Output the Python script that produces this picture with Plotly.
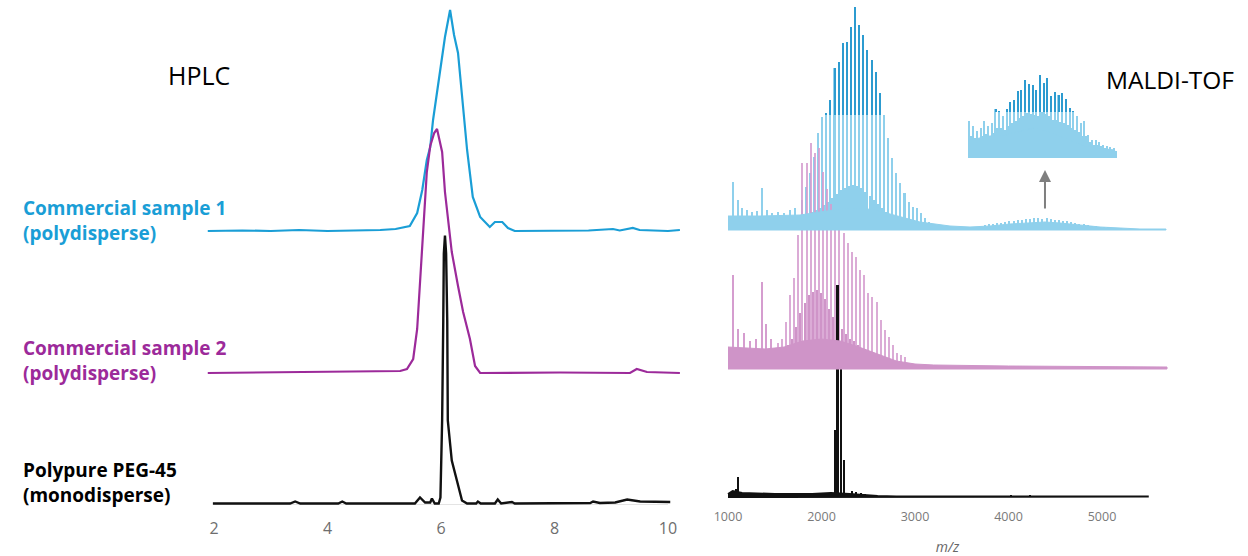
import plotly.graph_objects as go

W, H = 1248, 556

# ------------------------------------------------------------------
# HPLC chromatograms (retention time / min, detector response / a.u.)
# ------------------------------------------------------------------
hplc_ticks = [2, 4, 6, 8, 10]

hplc_s1_t = [1.89, 2.5, 3.0, 3.5, 4.0, 4.5, 4.93, 5.2, 5.45, 5.58, 5.67, 5.75, 5.81, 5.86,
             5.98, 6.07, 6.16, 6.23, 6.30, 6.39, 6.46, 6.56, 6.69, 6.86, 6.95, 7.08, 7.18,
             7.30, 8.0, 8.6, 9.03, 9.15, 9.38, 9.5, 10.0, 10.21]
hplc_s1_i = [0, 0.5, 0, 1, 0, 0.5, 1, 2, 5, 18, 41, 71, 84, 111,
             161, 194, 221, 196, 178, 121, 81, 34, 14, 4, 9, 9, 3,
             0, 0.5, 0.5, 2, 0.5, 3, 1, 0, 1]

hplc_s2_t = [1.89, 3.52, 5.28, 5.40, 5.51, 5.58, 5.63, 5.68, 5.75, 5.81, 5.88, 5.93, 5.98,
             6.02, 6.07, 6.12, 6.19, 6.30, 6.39, 6.51, 6.60, 6.69, 8.10, 9.33, 9.45, 9.63, 10.21]
hplc_s2_i = [0, 1, 2, 4, 14, 44, 87, 137, 201, 227, 240, 244, 232,
             221, 181, 154, 121, 87, 61, 34, 7, 0, 0.5, 0, 4, 1, 0]

hplc_peg_t = [1.98, 3.34, 3.43, 3.52, 4.19, 4.26, 4.33, 5.54, 5.63, 5.72, 5.81, 5.84, 5.89,
              5.96, 5.99, 6.02, 6.04, 6.05, 6.07, 6.09, 6.11, 6.12, 6.16, 6.19, 6.28, 6.37,
              6.46, 6.62, 6.65, 6.70, 6.95, 7.00, 7.06, 7.25, 7.30, 8.63, 8.68, 8.80, 9.07,
              9.28, 9.51, 10.04]
hplc_peg_i = [0, 0, 2, 0, 0, 2, 0, 0, 6, 1, 1, 5, 0,
              0, 6, 83, 183, 250, 268, 250, 183, 83, 60, 43, 23, 3,
              0, 0, 2, 0, 0, 4, 0, 1.5, 0, 0.5, 2, 0.5, 1,
              4, 2, 1.5]

# ------------------------------------------------------------------
# MALDI-TOF spectra (m/z, relative intensity / a.u.)
# ------------------------------------------------------------------
maldi_ticks = [1000, 2000, 3000, 4000, 5000]
peg_repeat = 44  # Da, ethylene-oxide repeat unit

# Commercial sample 1
s1_main_start = 1790
s1_main_h = [30, 43, 57, 73, 97, 113, 117, 130, 162, 168, 187, 188, 203, 223, 205, 195,
             180, 170, 158, 137, 115, 92, 72, 57, 47, 37, 28, 23, 22, 17, 12, 8, 6, 5, 4, 3]
s1_minor_start = 1812
s1_minor_h = [14, 16, 18, 20, 22, 25, 28, 32, 36, 40, 42, 44, 45, 44, 42, 38, 34, 30, 26,
              22, 18, 15, 12, 10, 8, 7, 6, 5, 4, 4, 3, 3]
s1_high_start = 3749
s1_high_h = [5, 6, 6, 7, 7, 8, 9, 9, 10, 10, 11, 11, 12, 12, 11, 12, 11, 10, 10, 9, 9, 8,
             7, 6, 6, 5, 4, 4, 3, 3, 3, 2, 2, 2]
s1_noise_mz = [1053, 1107, 1150, 1203, 1257, 1310, 1364, 1417, 1471, 1535, 1599, 1663, 1717]
s1_noise_h = [48, 30, 22, 20, 18, 19, 42, 20, 17, 18, 17, 20, 22]
s1_bg_mz = [1000, 1342, 1770, 1984, 2198, 2412, 2572, 2733, 2893, 3053, 3214, 3374, 3588,
            3802, 4016, 4230, 4390, 4551, 4765, 4979, 5193, 5406, 5684]
s1_bg_h = [14, 14, 15, 18, 21, 22, 20, 16, 12, 8, 6, 4, 3, 4, 6, 7, 8, 7, 5, 3, 2, 1, 1]

# Zoomed inset of sample 1 high-mass distribution
inset_start = 3500
inset_h = [37, 32, 27, 30, 37, 32, 35, 49, 47, 42, 49, 56, 58, 67, 68, 78, 74, 73, 68, 83,
           75, 80, 62, 66, 63, 65, 59, 50, 47, 42, 35, 37, 23, 18, 18, 16, 13, 12, 11, 10]
inset_minor_start = 3522
inset_minor_h = [22, 20, 19, 22, 24, 22, 25, 30, 30, 28, 32, 35, 37, 40, 42, 45, 44, 43, 42,
                 46, 44, 42, 38, 38, 36, 35, 33, 30, 28, 26, 22, 22, 16, 13, 13, 12, 10, 9, 8, 7]
inset_bg_mz = [3500, 3740, 3920, 4110, 4260, 4410, 4560, 4710, 4860, 5010, 5220]
inset_bg_h = [18, 22, 23, 27, 30, 27, 22, 17, 12, 10, 8]

# Commercial sample 2
s2_main_start = 1535
s2_main_h = [26, 30, 47, 74, 91, 134, 206, 206, 226, 216, 221, 197, 180, 165, 155, 140, 136,
             126, 117, 112, 99, 94, 76, 72, 67, 49, 39, 32, 24, 16, 14, 12, 6, 5, 4]
s2_minor_start = 1557
s2_minor_h = [18, 20, 24, 30, 42, 56, 66, 74, 77, 79, 76, 70, 60, 52, 45, 40, 35, 30, 28,
              24, 20, 16, 12, 9, 7, 5]
s2_noise_mz = [1053, 1107, 1171, 1235, 1299, 1364, 1406, 1460]
s2_noise_h = [94, 40, 36, 28, 30, 87, 45, 30]
s2_bg_mz = [1000, 1400, 1600, 1800, 2000, 2200, 2400, 2600, 2800, 3000, 3200, 4000, 5000, 5695]
s2_bg_h = [22, 20, 22, 28, 30, 28, 22, 15, 8, 5, 4, 3, 2, 2]

# Polypure PEG-45
peg_peak_mz = [1085, 1107, 2144, 2171, 2209, 2241, 2330, 2370, 2420, 2470, 4030, 4230]
peg_peak_h = [8, 20, 67, 212, 140, 37, 6, 5, 4, 3, 1.5, 2.5]
peg_bg_mz = [1000, 1050, 1150, 1500, 1900, 2100, 2300, 2600, 2800, 5500]
peg_bg_h = [3, 6, 4, 3, 3, 4, 3, 1, 0.5, 0.5]

# ------------------------------------------------------------------
# Styling / layout constants
# ------------------------------------------------------------------
C_BLUE = "#1a9ed6"
C_PURPLE = "#9c2a9a"
C_BLACK = "#111111"
C_MS_BLUE = "#8fd0ec"
C_MS_BLUE_DARK = "#2c9bd0"
C_MS_PINK = "#d59dcf"
C_MS_PINK_BG = "#cf94c8"
DARK_LEVEL_MAIN = 115
DARK_LEVEL_INSET = 46

HPLC_OFF = {"s1": 274, "s2": 132, "peg": 1.5}
MS_OFF = {"s1": 269, "s2": 130, "peg": 2}

fig = go.Figure()


def offs(vals, off):
    return [v + off for v in vals]


def grid(start, n):
    return [start + peg_repeat * k for k in range(n)]


# ---------------- HPLC ----------------
fig.add_trace(go.Scatter(x=[hplc_ticks[0], hplc_ticks[-1]], y=[0, 0], mode="lines",
                         line=dict(color="#c9c9c9", width=1), xaxis="x", yaxis="y",
                         hoverinfo="skip"))
fig.add_trace(go.Scatter(x=hplc_s1_t, y=offs(hplc_s1_i, HPLC_OFF["s1"]), mode="lines",
                         line=dict(color=C_BLUE, width=2.2), xaxis="x", yaxis="y"))
fig.add_trace(go.Scatter(x=hplc_s2_t, y=offs(hplc_s2_i, HPLC_OFF["s2"]), mode="lines",
                         line=dict(color=C_PURPLE, width=2.2), xaxis="x", yaxis="y"))
fig.add_trace(go.Scatter(x=hplc_peg_t, y=offs(hplc_peg_i, HPLC_OFF["peg"]), mode="lines",
                         line=dict(color=C_BLACK, width=2.4), xaxis="x", yaxis="y"))


# ---------------- MALDI helpers ----------------
def add_bg(mz, h, off, color, xa="x2", ya="y2", lw=0):
    xs = list(mz) + list(mz)[::-1]
    ys = [v + off for v in h] + [off] * len(mz)
    fig.add_trace(go.Scatter(x=xs, y=ys, fill="toself", fillcolor=color, mode="lines",
                             line=dict(color=color, width=lw), xaxis=xa, yaxis=ya,
                             hoverinfo="skip"))


def add_bars(mz, h, off, color, width, xa="x2", ya="y2", opacity=1.0):
    fig.add_trace(go.Bar(x=mz, y=h, base=[off] * len(mz), width=width,
                         marker=dict(color=color, line=dict(width=0)), opacity=opacity,
                         xaxis=xa, yaxis=ya))


def add_dark_tops(mz, h, off, level, color, width, xa="x2", ya="y2"):
    xs, ys = [], []
    for m, v in zip(mz, h):
        if v > level:
            xs.append(m)
            ys.append(v - level)
    fig.add_trace(go.Bar(x=xs, y=ys, base=[off + level] * len(xs), width=width,
                         marker=dict(color=color, line=dict(width=0)), xaxis=xa, yaxis=ya))


# sample 1 spectrum
s1_main_mz = grid(s1_main_start, len(s1_main_h))
s1_minor_mz = grid(s1_minor_start, len(s1_minor_h))
s1_high_mz = grid(s1_high_start, len(s1_high_h))
add_bg(s1_bg_mz, s1_bg_h, MS_OFF["s1"], C_MS_BLUE, lw=1)
add_bars(s1_noise_mz, s1_noise_h, MS_OFF["s1"], C_MS_BLUE, 14)
add_bars(s1_high_mz, s1_high_h, MS_OFF["s1"], C_MS_BLUE, 16)
add_bars(s1_minor_mz, s1_minor_h, MS_OFF["s1"], C_MS_BLUE, 16)
add_bars(s1_main_mz, s1_main_h, MS_OFF["s1"], C_MS_BLUE, 17)
add_dark_tops(s1_main_mz, s1_main_h, MS_OFF["s1"], DARK_LEVEL_MAIN, C_MS_BLUE_DARK, 15)

# inset
inset_mz = grid(inset_start, len(inset_h))
inset_minor_mz = grid(inset_minor_start, len(inset_minor_h))
add_bg(inset_bg_mz, inset_bg_h, 0, C_MS_BLUE, xa="x3", ya="y3", lw=1)
add_bars(inset_minor_mz, inset_minor_h, 0, C_MS_BLUE, 17, xa="x3", ya="y3")
add_bars(inset_mz, inset_h, 0, C_MS_BLUE, 17, xa="x3", ya="y3")
add_dark_tops(inset_mz, inset_h, 0, DARK_LEVEL_INSET, C_MS_BLUE_DARK, 15, xa="x3", ya="y3")

# sample 2 spectrum
s2_main_mz = grid(s2_main_start, len(s2_main_h))
s2_minor_mz = grid(s2_minor_start, len(s2_minor_h))
add_bg(s2_bg_mz, s2_bg_h, MS_OFF["s2"], C_MS_PINK_BG, lw=1)
add_bars(s2_noise_mz, s2_noise_h, MS_OFF["s2"], C_MS_PINK, 14)
add_bars(s2_minor_mz, s2_minor_h, MS_OFF["s2"], C_MS_PINK_BG, 16)
add_bars(s2_main_mz, s2_main_h, MS_OFF["s2"], C_MS_PINK, 16, opacity=0.85)

# PEG-45 spectrum
add_bg(peg_bg_mz, peg_bg_h, MS_OFF["peg"], C_BLACK, lw=2)
add_bars(peg_peak_mz, peg_peak_h, MS_OFF["peg"], C_BLACK, 22)

# ---------------- layout ----------------
ann = []


def label(text, x_px, y_px, color, size, bold=True, anchor="left"):
    t = f"<b>{text}</b>" if bold else text
    ann.append(dict(xref="paper", yref="paper", x=x_px / W, y=1 - y_px / H, text=t,
                    xanchor=anchor, yanchor="middle", align="left", showarrow=False,
                    font=dict(family="Open Sans", size=size, color=color)))


label("Commercial sample 1<br>(polydisperse)", 21, 220, C_BLUE, 19)
label("Commercial sample 2<br>(polydisperse)", 21, 360, C_PURPLE, 19)
label("Polypure PEG-45<br>(monodisperse)", 21, 482, "#000000", 19)
label("HPLC", 199, 75, "#000000", 25, bold=False, anchor="center")
label("MALDI-TOF", 1170, 79, "#000000", 24.5, bold=False, anchor="center")

# arrow pointing from the high-mass distribution to the inset
ann.append(dict(xref="x2", yref="y2", axref="x2", ayref="y2", x=4390, y=MS_OFF["s1"] + 60,
                ax=4390, ay=MS_OFF["s1"] + 20, text="", showarrow=True, arrowhead=2,
                arrowsize=1.2, arrowwidth=2, arrowcolor="#7f7f7f"))

fig.update_layout(
    width=W, height=H, margin=dict(l=0, r=0, t=0, b=0),
    paper_bgcolor="white", plot_bgcolor="rgba(0,0,0,0)",
    showlegend=False, barmode="overlay", bargap=0,
    annotations=ann,
    xaxis=dict(domain=[200 / W, 690 / W], range=[1.753, 10.388], tickvals=hplc_ticks,
               showgrid=False, zeroline=False, showline=False, ticks="",
               tickfont=dict(family="Open Sans", size=16, color="#6e6e6e"),
               ticklabelstandoff=12, anchor="y"),
    yaxis=dict(domain=[1 - 505 / H, 1], range=[0, 505], visible=False, anchor="x"),
    xaxis2=dict(domain=[715 / W, 1180 / W], range=[861, 5834], tickvals=maldi_ticks,
                showgrid=False, zeroline=False, showline=False, ticks="",
                tickfont=dict(family="Open Sans", size=12.5, color="#7a7a7a"),
                ticklabelstandoff=8, anchor="y2",
                title=dict(text="<i>m/z</i>", standoff=18,
                           font=dict(family="Open Sans", size=14, color="#666666"))),
    yaxis2=dict(domain=[1 - 499 / H, 1], range=[0, 499], visible=False, anchor="x2"),
    xaxis3=dict(domain=[968 / W, 1118 / W], range=[3480, 5260], visible=False, anchor="y3"),
    yaxis3=dict(domain=[1 - 158 / H, 1 - 58 / H], range=[0, 100], visible=False, anchor="x3"),
)

fig.write_html("out.html")
